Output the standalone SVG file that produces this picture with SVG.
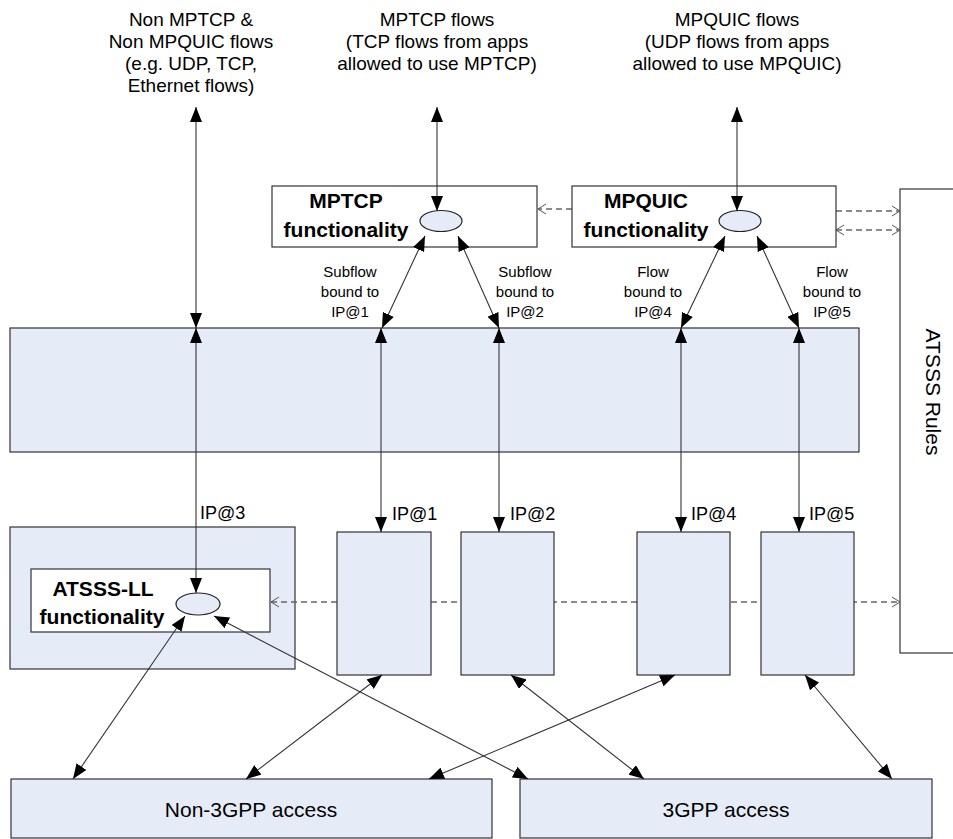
<svg xmlns="http://www.w3.org/2000/svg" width="953" height="839" viewBox="0 0 953 839">
<defs>
<marker id="a" markerUnits="userSpaceOnUse" markerWidth="15" markerHeight="12" viewBox="0 0 15 12" refX="15" refY="6" orient="auto-start-reverse"><path d="M0,0L15,6L0,12z" fill="#000"/></marker>
<marker id="o" markerUnits="userSpaceOnUse" markerWidth="10" markerHeight="12" viewBox="0 0 10 12" refX="9" refY="6" orient="auto-start-reverse"><path d="M1,1L9,6L1,11" fill="none" stroke="#555" stroke-width="1"/></marker>
</defs>
<style>
.t{font-family:"Liberation Sans",Arial,sans-serif;fill:#000}
.b{font-weight:bold}
.box{fill:#E6ECF7;stroke:#333;stroke-width:1.2}
.wbox{fill:#fff;stroke:#333;stroke-width:1.2}
.ell{fill:#E6ECF7;stroke:#222;stroke-width:1.2}
.c line{stroke:#333;stroke-width:1.1;marker-start:url(#a);marker-end:url(#a)}
.d line{stroke:#666;stroke-width:1.3;stroke-dasharray:6 4}
</style>
<rect x="0" y="0" width="953" height="839" fill="#fff"/>

<g id="label-non-mptcp" class="t" font-size="19" text-anchor="middle">
<text x="191" y="26">Non MPTCP &amp;</text>
<text x="191" y="48">Non MPQUIC flows</text>
<text x="191" y="70">(e.g. UDP, TCP,</text>
<text x="191" y="92">Ethernet flows)</text>
</g>
<g id="label-mptcp-flows" class="t" font-size="19" text-anchor="middle">
<text x="437" y="26">MPTCP flows</text>
<text x="437" y="48">(TCP flows from apps</text>
<text x="437" y="70">allowed to use MPTCP)</text>
</g>
<g id="label-mpquic-flows" class="t" font-size="19" text-anchor="middle">
<text x="737" y="26">MPQUIC flows</text>
<text x="737" y="48">(UDP flows from apps</text>
<text x="737" y="70">allowed to use MPQUIC)</text>
</g>

<g id="atsss-rules">
<rect class="wbox" x="900" y="189" width="70" height="464"/>
<text class="t" font-size="21" text-anchor="middle" transform="translate(926,392) rotate(90)">ATSSS Rules</text>
</g>

<g id="atsss-ll">
<rect class="box" x="10" y="527" width="285" height="142"/>
<rect class="wbox" x="31" y="569" width="239" height="63"/>
<ellipse class="ell" cx="198" cy="604" rx="22" ry="11"/>
<text class="t b" font-size="21" text-anchor="middle" x="103" y="596">ATSSS-LL</text>
<text class="t b" font-size="21" text-anchor="middle" x="102" y="624">functionality</text>
</g>

<g id="dashed-connectors" class="d">
<line x1="572" y1="209" x2="538" y2="209" marker-end="url(#o)"/>
<line x1="836" y1="211" x2="900" y2="211" marker-end="url(#o)"/>
<line x1="836" y1="230" x2="900" y2="230" marker-start="url(#o)" marker-end="url(#o)"/>
<line x1="271" y1="602" x2="900" y2="602" marker-start="url(#o)" marker-end="url(#o)"/>
</g>

<g id="mptcp">
<rect class="wbox" x="272" y="186" width="265" height="61"/>
<ellipse class="ell" cx="441" cy="221" rx="21" ry="10.5"/>
<text class="t b" font-size="21" text-anchor="middle" x="346" y="208">MPTCP</text>
<text class="t b" font-size="21" text-anchor="middle" x="346" y="237">functionality</text>
</g>
<g id="mpquic">
<rect class="wbox" x="572" y="186" width="264" height="61"/>
<ellipse class="ell" cx="740" cy="221" rx="21" ry="10.5"/>
<text class="t b" font-size="21" text-anchor="middle" x="646" y="208">MPQUIC</text>
<text class="t b" font-size="21" text-anchor="middle" x="646" y="237">functionality</text>
</g>

<g id="ip-layer">
<rect class="box" x="10" y="328" width="849" height="124"/>
</g>

<g id="if1"><rect class="box" x="337" y="532" width="94" height="143"/><text class="t" font-size="18" x="392" y="520">IP@1</text></g>
<g id="if2"><rect class="box" x="461" y="532" width="93" height="143"/><text class="t" font-size="18" x="510" y="520">IP@2</text></g>
<g id="if4"><rect class="box" x="637" y="532" width="93" height="143"/><text class="t" font-size="18" x="691" y="520">IP@4</text></g>
<g id="if5"><rect class="box" x="761" y="532" width="93" height="143"/><text class="t" font-size="18" x="809" y="520">IP@5</text></g>
<g id="ip3-label"><text class="t" font-size="18" x="200" y="519">IP@3</text></g>

<g id="non3gpp"><rect class="box" x="11" y="779" width="481" height="59"/><text class="t" font-size="21" text-anchor="middle" x="251" y="817">Non-3GPP access</text></g>
<g id="3gpp"><rect class="box" x="520" y="779" width="412" height="59"/><text class="t" font-size="21" text-anchor="middle" x="726" y="817">3GPP access</text></g>

<g id="subflow-labels" class="t" font-size="15" text-anchor="middle">
<text x="350" y="277">Subflow</text><text x="350" y="297">bound to</text><text x="350" y="317">IP@1</text>
<text x="525" y="277">Subflow</text><text x="525" y="297">bound to</text><text x="525" y="317">IP@2</text>
<text x="653" y="277">Flow</text><text x="653" y="297">bound to</text><text x="653" y="317">IP@4</text>
<text x="832" y="277">Flow</text><text x="832" y="297">bound to</text><text x="832" y="317">IP@5</text>
</g>

<g id="connectors" class="c">
<line x1="196" y1="328" x2="196" y2="107"/>
<line x1="196" y1="328" x2="196" y2="593"/>
<line x1="437" y1="107" x2="437" y2="211"/>
<line x1="737" y1="107" x2="737" y2="211"/>
<line x1="425" y1="236" x2="382" y2="328"/>
<line x1="458" y1="236" x2="499" y2="328"/>
<line x1="725" y1="236" x2="681" y2="328"/>
<line x1="757" y1="236" x2="799" y2="328"/>
<line x1="381" y1="328" x2="381" y2="532"/>
<line x1="499" y1="328" x2="499" y2="532"/>
<line x1="681" y1="328" x2="681" y2="532"/>
<line x1="799" y1="328" x2="799" y2="532"/>
<line x1="185" y1="616" x2="73" y2="779"/>
<line x1="214" y1="616" x2="528" y2="779"/>
<line x1="382" y1="675" x2="246" y2="779"/>
<line x1="511" y1="675" x2="644" y2="779"/>
<line x1="675" y1="675" x2="429" y2="779"/>
<line x1="805" y1="675" x2="892" y2="779"/>
</g>
</svg>
